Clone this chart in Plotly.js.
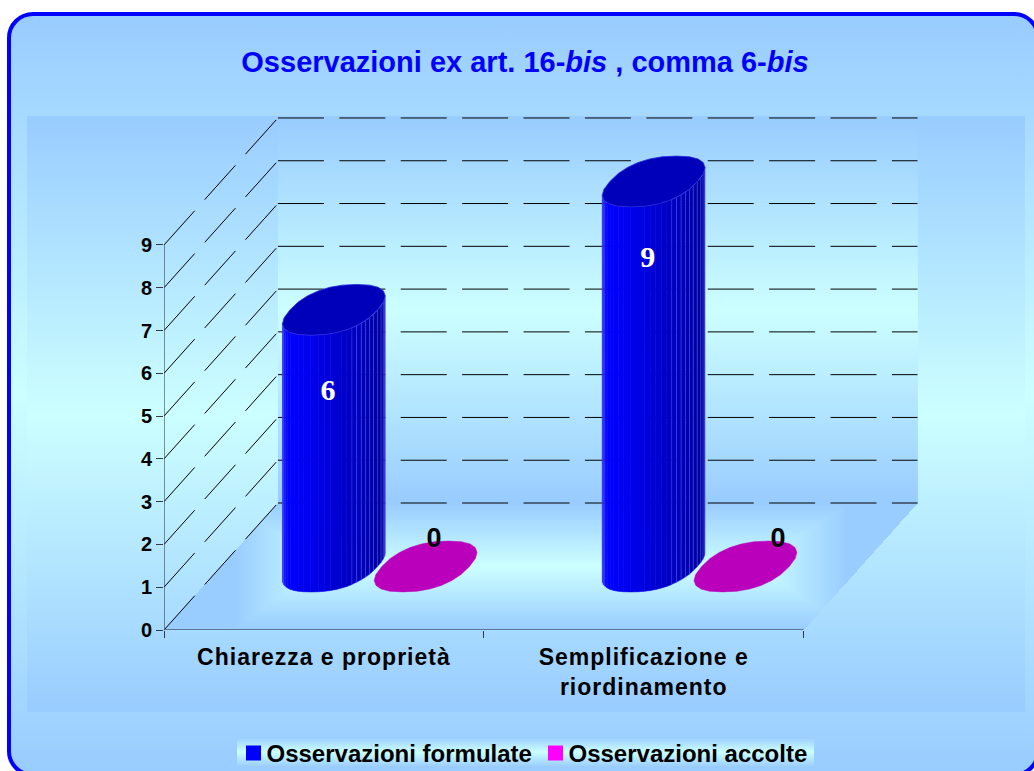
<!DOCTYPE html>
<html>
<head>
<meta charset="utf-8">
<script src="https://cdn.plot.ly/plotly-3.0.1.min.js"></script>
<style>
html,body{margin:0;padding:0;width:1034px;height:771px;overflow:hidden;background:#fff}
#panel{position:absolute;left:7px;top:12px;width:1025px;height:757px;border:4px solid #0000ff;border-radius:26px;
 background:linear-gradient(#99ccff 0%,#ccffff 50%,#99ccff 100%)}
#inner{position:absolute;left:27px;top:116px;width:998px;height:596px;
 background:linear-gradient(#99ccff 0%,#ccffff 50%,#99ccff 100%)}
#legbg{position:absolute;left:237px;top:737px;width:577px;height:30px;
 background:linear-gradient(#99ccff 0%,#ccffff 50%,#99ccff 100%)}
#chart{position:absolute;left:0;top:0;width:1034px;height:771px}
.xtick text{letter-spacing:1px}
.legend .legendsymbols{transform:translateX(7px)}
</style>
</head>
<body>
<div id="panel"></div><div id="inner"></div><div id="legbg"></div>
<div id="chart"></div>
<script>
// ---------- data ----------
var categories = ["Chiarezza e proprietà", "Semplificazione e<br>riordinamento"];
var seriesNames = ["Osservazioni formulate", "Osservazioni accolte"];
var formulate = [6, 9];
var accolte = [0, 0];
var yTicks = [0, 1, 2, 3, 4, 5, 6, 7, 8, 9];

// ---------- projection of the oblique 3-D box onto the axes ----------
var PXX = 320, PXY = 42.78, X0 = 163.5, Y0 = 630;
var DEPTH_X = 114 / PXX, DEPTH_Y = 127 / PXY;
function px(x, v, d) { return x + d * DEPTH_X; }
function py(x, v, d) { return v + d * DEPTH_Y; }

var traces = [];

// wall gradient (brick edges, one column, fine rows)
(function () {
  var ny = 385, ys = [], zs = [], j;
  var wallTop = 9 + DEPTH_Y, wallBot = DEPTH_Y;
  for (j = 0; j <= ny; j++) ys.push(wallBot + (wallTop - wallBot) * j / ny);
  for (j = 0; j < ny; j++) zs.push([1 - Math.abs((j + .5) / ny - .5) / .5]);
  traces.push({type:'heatmap', x:[DEPTH_X, 2 + DEPTH_X], y:ys, z:zs, zmin:0, zmax:1, showscale:false, hoverinfo:'skip',
    colorscale:[[0,'#99ccff'],[1,'#ccffff']]});
})();

// floor gradient (clipped to the parallelogram)
(function () {
  var xs = [], ys = [], zs = [], i, j;
  var nx = 754, ny = 127;
  for (i = 0; i <= nx; i++) xs.push((2 + DEPTH_X) * i / nx);
  for (j = 0; j <= ny; j++) ys.push(DEPTH_Y * j / ny);
  var cx = (2 + DEPTH_X) / 2;
  for (j = 0; j < ny; j++) {
    var row = [], d = (j + .5) / ny;
    var tv = Math.abs(d - 0.5) / 0.5;
    for (i = 0; i < nx; i++) {
      var xm = (2 + DEPTH_X) * (i + .5) / nx;
      var xf = xm - d * DEPTH_X;
      if (xf < 0 || xf > 2) { row.push(null); continue; }
      var th = (Math.abs(xm - cx) - 0.68) / 0.28;
      var t = Math.min(1, Math.max(tv, th, 0));
      row.push(1 - t);
    }
    zs.push(row);
  }
  traces.push({type:'heatmap', x:xs, y:ys, z:zs, zmin:0, zmax:1, showscale:false, hoverinfo:'skip',
    colorscale:[[0,'#99ccff'],[1,'#ccffff']]});
})();

// gridlines on back wall and on side wall
var gridDash = '46px,15.4px';
yTicks.forEach(function (v) {
  traces.push({type:'scatter', mode:'lines', x:[px(0,v,1), px(2,v,1)], y:[py(0,v,1), py(2,v,1)],
    line:{color:'#000000', width:1, dash:gridDash}, hoverinfo:'skip', showlegend:false});
  traces.push({type:'scatter', mode:'lines', x:[px(0,v,0), px(0,v,1)], y:[py(0,v,0), py(0,v,1)],
    line:{color:'#000000', width:1, dash:'46px,15px'}, hoverinfo:'skip', showlegend:false});
});

// front axes
traces.push({type:'scatter', mode:'lines', x:[0,0], y:[0,9], line:{color:'#222a34', width:1}, hoverinfo:'skip', showlegend:false});
traces.push({type:'scatter', mode:'lines', x:[0,2], y:[0,0], line:{color:'#4a5a70', width:1.6}, hoverinfo:'skip', showlegend:false});

// cylinders
var R_W = 0.137, R_D = 0.2, C_D = 0.5, ROUND = 0.85;
var seriesOffset = [-0.147, 0.14];
function spow(c) { return (c < 0 ? -1 : 1) * Math.pow(Math.abs(c), ROUND); }
function rim(x0, v, t) {
  var x = x0 + R_W * spow(Math.cos(t)), d = C_D + R_D * spow(Math.sin(t));
  return [px(x, v, d), py(x, v, d)];
}
function mix(a, b, t) { return Math.round(a + (b - a) * t); }
function facetColor(u) {
  // u runs from 0 (left edge) to 1 (right edge)
  var stops = [[0,232,16],[0.1,255,0],[0.45,216,0],[0.78,176,0],[1,128,0]];
  for (var i = 1; i < stops.length; i++) {
    if (u <= stops[i][0]) {
      var f = (u - stops[i-1][0]) / (stops[i][0] - stops[i-1][0]);
      var b = mix(stops[i-1][1], stops[i][1], f), r = mix(stops[i-1][2], stops[i][2], f);
      return 'rgb(' + r + ',' + r + ',' + b + ')';
    }
  }
  return 'rgb(0,0,128)';
}
function ellipse(x0, v, n) {
  var xs = [], ys = [];
  for (var i = 0; i <= n; i++) {
    var p = rim(x0, v, 2 * Math.PI * i / n);
    xs.push(p[0]); ys.push(p[1]);
  }
  return [xs, ys];
}
var tR = Math.atan2(R_D * DEPTH_X, R_W), tL = tR - Math.PI;
var N = 26;

function addCylinder(x0, v) {
  for (var i = 0; i < N; i++) {
    var a = tL + (tR - tL) * i / N, b = tL + (tR - tL) * (i + 1) / N;
    var p1 = rim(x0, 0, a), p2 = rim(x0, 0, b), p3 = rim(x0, v, b), p4 = rim(x0, v, a);
    var u = (p1[0] - px(x0 - 0.18, 0, C_D)) / (2 * 0.18);
    var c = facetColor(Math.min(1, Math.max(0, u)));
    var edge = (i < 4 || i > 15) ? 'rgba(70,70,255,0.75)' : c;
    traces.push({type:'scatter', mode:'lines', x:[p1[0],p2[0],p3[0],p4[0],p1[0]], y:[p1[1],p2[1],p3[1],p4[1],p1[1]],
      fill:'toself', fillcolor:c, line:{color:edge, width:0.6}, hoverinfo:'skip', showlegend:false});
  }
  var e = ellipse(x0, v, 24);
  traces.push({type:'scatter', mode:'lines', x:e[0], y:e[1], fill:'toself', fillcolor:'#0000bb',
    line:{color:'#2a2ae0', width:0.8}, hoverinfo:'skip', showlegend:false});
}
function addFlat(x0, v) {
  var e = ellipse(x0, v, 24);
  traces.push({type:'scatter', mode:'lines', x:e[0], y:e[1], fill:'toself', fillcolor:'#bb00bb',
    line:{color:'#bb00bb', width:0.5}, hoverinfo:'skip', showlegend:false});
}
categories.forEach(function (c, k) {
  var centre = k + 0.5;
  addFlat(centre + seriesOffset[1], accolte[k]);
  addCylinder(centre + seriesOffset[0], formulate[k]);
});

// data labels
var labelDxF = [0.16, 0.16], labelDxA = [0.204, 0.28], labelDyF = [0.44, 0.35];
traces.push({type:'scatter', mode:'text', cliponaxis:false, showlegend:false, hoverinfo:'skip',
  x:formulate.map(function (v, k) { return k + 0.5 + seriesOffset[0] + labelDxF[k]; }),
  y:formulate.map(function (v, k) { return v - labelDyF[k]; }),
  text:formulate.map(String), textposition:'middle center',
  textfont:{family:'"Liberation Serif", serif', size:30, color:'#ffffff', weight:700}});
traces.push({type:'scatter', mode:'text', cliponaxis:false, showlegend:false, hoverinfo:'skip',
  x:accolte.map(function (v, k) { return k + 0.5 + seriesOffset[1] + labelDxA[k]; }),
  y:accolte.map(function (v) { return v + 2.1; }),
  text:accolte.map(String), textposition:'middle center',
  textfont:{family:'"Liberation Sans", Arial, sans-serif', size:27, color:'#000000', weight:700}});

// legend entries
traces.push({type:'scatter', mode:'markers', name:seriesNames[0], x:[null], y:[null],
  marker:{symbol:'square', size:15, color:'#0000ff'}, hoverinfo:'skip'});
traces.push({type:'scatter', mode:'markers', name:seriesNames[1], x:[null], y:[null],
  marker:{symbol:'square', size:15, color:'#ff00ff'}, hoverinfo:'skip'});

var mTop = 100, mRight = 100;
var FONT = '"Liberation Sans", Arial, sans-serif';
var layout = {
  width:1034, height:771, autosize:false,
  paper_bgcolor:'rgba(0,0,0,0)', plot_bgcolor:'rgba(0,0,0,0)',
  margin:{l:X0, r:mRight, t:mTop, b:771 - Y0, pad:0},
  title:{text:'Osservazioni ex art. 16-<i>bis</i> , comma 6-<i>bis</i>', xref:'container', yref:'container',
    x:525/1034, y:1 - 62/771, xanchor:'center', yanchor:'middle',
    font:{family:FONT, size:29, color:'#0000ff', weight:700}},
  xaxis:{range:[0, (1034 - mRight - X0) / PXX], showgrid:false, zeroline:false, showline:false,
    tickmode:'array', tickvals:[0.5, 1.5], ticktext:categories, ticks:'', tickangle:0,
    tickfont:{family:FONT, size:23, color:'#000000', weight:700}, ticklabelstandoff:11,
    minor:{tickmode:'array', tickvals:[0, 1, 2], ticks:'outside', ticklen:7, tickwidth:1, tickcolor:'#333a44', showgrid:false}},
  yaxis:{range:[0, (Y0 - mTop) / PXY], showgrid:false, zeroline:false, showline:false,
    tickmode:'array', tickvals:yTicks, ticktext:yTicks.map(String), ticks:'outside', ticklen:7, tickwidth:1, tickcolor:'#333a44',
    tickfont:{family:FONT, size:20, color:'#000000', weight:700}},
  showlegend:true,
  legend:{orientation:'h', xref:'container', yref:'container', x:226.5/1034, y:1 - 731/771, xanchor:'left', yanchor:'top',
    bgcolor:'rgba(0,0,0,0)', borderwidth:0, font:{family:FONT, size:24, color:'#000000', weight:700}, itemsizing:'trace', tracegroupgap:0,
    entrywidth:257, entrywidthmode:'pixels'}
};
Plotly.newPlot('chart', traces, layout, {displayModeBar:false, staticPlot:true});
</script>
</body>
</html>
